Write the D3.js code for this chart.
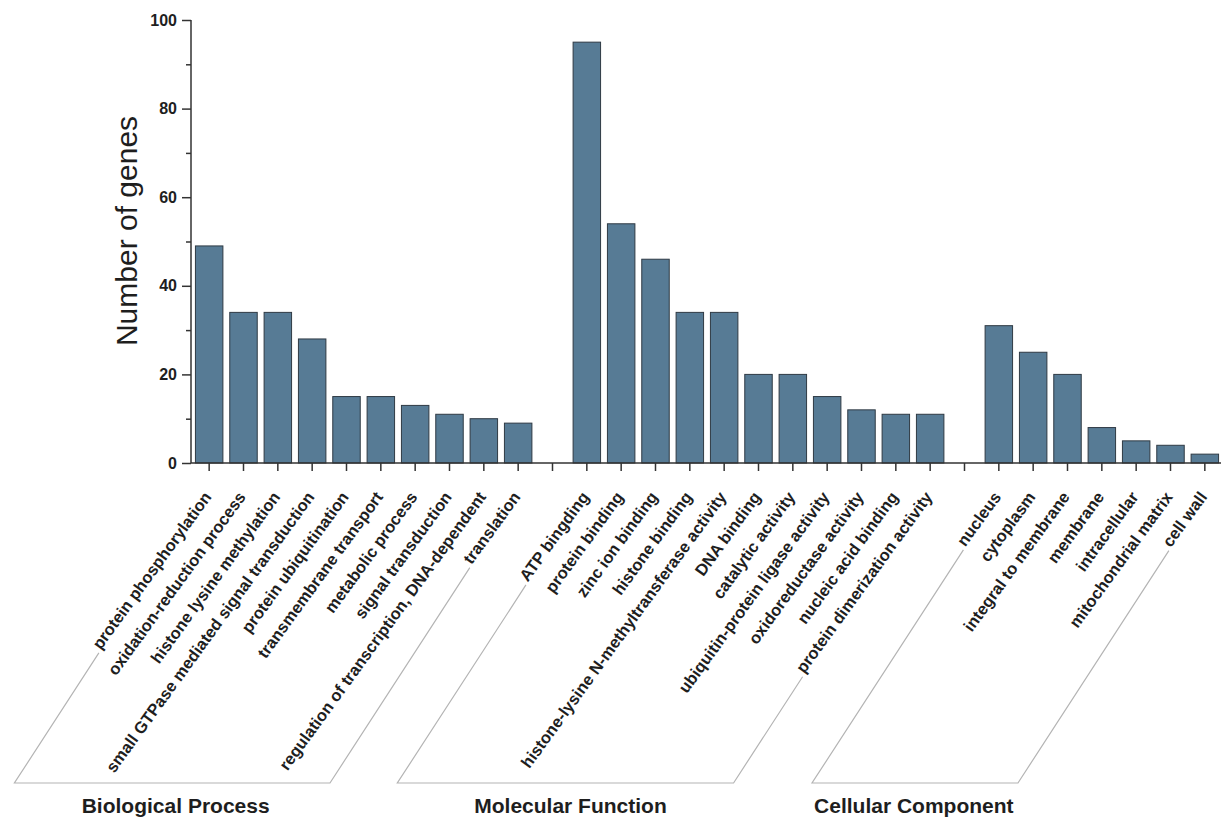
<!DOCTYPE html>
<html>
<head>
<meta charset="utf-8">
<script src="https://cdn.jsdelivr.net/npm/d3@7"></script>
<style>
  html, body { margin: 0; padding: 0; background: #fff; }
  svg { display: block; font-family: Arial, "Liberation Sans", sans-serif; }
</style>
</head>
<body>
<svg id="chart" width="1226" height="817"></svg>
<script>
// GO term counts per ontology
const groupNames = ["Biological Process", "Molecular Function", "Cellular Component"];

const bpTerms = [
  "protein phosphorylation", "oxidation-reduction process", "histone lysine methylation",
  "small GTPase mediated signal transduction", "protein ubiquitination", "transmembrane transport",
  "metabolic process", "signal transduction", "regulation of transcription, DNA-dependent", "translation"
];
const bpCounts = [49, 34, 34, 28, 15, 15, 13, 11, 10, 9];

const mfTerms = [
  "ATP bingding", "protein binding", "zinc ion binding", "histone binding",
  "histone-lysine N-methyltransferase activity", "DNA binding", "catalytic activity",
  "ubiquitin-protein ligase activity", "oxidoreductase activity", "nucleic acid binding",
  "protein dimerization activity"
];
const mfCounts = [95, 54, 46, 34, 34, 20, 20, 15, 12, 11, 11];

const ccTerms = [
  "nucleus", "cytoplasm", "integral to membrane", "membrane",
  "intracellular", "mitochondrial matrix", "cell wall"
];
const ccCounts = [31, 25, 20, 8, 5, 4, 2];

const yTicks = [0, 20, 40, 60, 80, 100];
const yMinorTicks = [10, 30, 50, 70, 90];
const yTitle = "Number of genes";

// Build the slot list: groups separated by one empty slot
const groups = [
  { name: groupNames[0], terms: bpTerms, counts: bpCounts },
  { name: groupNames[1], terms: mfTerms, counts: mfCounts },
  { name: groupNames[2], terms: ccTerms, counts: ccCounts }
];
const slots = [];
const bars = [];
groups.forEach((g, gi) => {
  if (gi > 0) slots.push("__gap" + gi);
  g.keys = [];
  g.terms.forEach((t, i) => {
    slots.push(t);
    g.keys.push(t);
    bars.push({ term: t, value: g.counts[i], group: gi });
  });
});

const svg = d3.select("#chart");
const axisColor = "#333";
const textColor = "#1e1e1e";
const barFill = "#577b95";

const x = d3.scaleBand().domain(slots).range([192, 1222]).paddingInner(0.2).paddingOuter(0.1);
const y = d3.scaleLinear().domain([0, 100]).range([463, 20]);
const x0 = 191;

// Bars
svg.append("g").selectAll("rect").data(bars).join("rect")
  .attr("x", d => x(d.term))
  .attr("y", d => y(d.value))
  .attr("width", x.bandwidth())
  .attr("height", d => y(0) - y(d.value))
  .attr("fill", barFill)
  .attr("stroke", "#2f3a44")
  .attr("stroke-width", 1);

// Y axis
const yAxis = svg.append("g").attr("transform", `translate(${x0},0)`);
yAxis.call(d3.axisLeft(y).tickValues(yTicks).tickSize(9).tickPadding(5).tickFormat(d3.format("d")));
yAxis.append("g").call(d3.axisLeft(y).tickValues(yMinorTicks).tickSize(5).tickFormat(""))
  .select(".domain").remove();
yAxis.selectAll(".domain").attr("d", `M0,${y(0)}V${y(100)}`);
yAxis.selectAll("line, .domain").attr("stroke", axisColor).attr("stroke-width", 1.5);
yAxis.selectAll("text")
  .attr("font-size", 16).attr("font-weight", "bold").attr("fill", textColor)
  .attr("font-family", "Arial, 'Liberation Sans', sans-serif");

// X axis (ticks at every slot, including the gaps)
const xAxis = svg.append("g").attr("transform", `translate(0,${y(0)})`);
xAxis.call(d3.axisBottom(x).tickSize(8).tickFormat(""));
xAxis.select(".domain").attr("d", `M${x0},0H1221`);
xAxis.selectAll("line, .domain").attr("stroke", axisColor).attr("stroke-width", 1.5);

// Y title
svg.append("text")
  .attr("transform", "translate(137,231) rotate(-90)")
  .attr("text-anchor", "middle")
  .attr("font-size", 30)
  .attr("fill", textColor)
  .text(yTitle);

// Rotated category labels
const labelAngle = 54;
const labelY = 497;
const rad = labelAngle * Math.PI / 180;
const dir = [Math.cos(rad), -Math.sin(rad)];
const labelG = svg.append("g");
const labelStart = {};
bars.forEach(d => {
  const bx = x(d.term) + x.bandwidth() / 2 + 3;
  const t = labelG.append("text")
    .attr("transform", `translate(${bx},${labelY}) rotate(${-labelAngle})`)
    .attr("text-anchor", "end")
    .attr("font-size", 16.5)
    .attr("font-weight", "bold")
    .attr("fill", textColor)
    .text(d.term);
  const len = t.node().getComputedTextLength();
  labelStart[d.term] = [bx - (len + 3) * dir[0], labelY - (len + 3) * dir[1]];
});

// Group brackets and titles
const bracketBottom = 783;
const bracketSlope = Math.tan(57 * Math.PI / 180);
groups.forEach(g => {
  const s1 = labelStart[g.keys[0]];
  const s2 = labelStart[g.keys[g.keys.length - 1]];
  const b1 = s1[0] - (bracketBottom - s1[1]) / bracketSlope;
  const b2 = s2[0] - (bracketBottom - s2[1]) / bracketSlope;
  svg.append("path")
    .attr("d", `M${s1[0]},${s1[1]}L${b1},${bracketBottom}H${b2}L${s2[0]},${s2[1]}`)
    .attr("fill", "none")
    .attr("stroke", "#b4b4b4")
    .attr("stroke-width", 1.2);
  const cx = (x(g.keys[0]) + x(g.keys[g.keys.length - 1]) + x.bandwidth()) / 2 - 188;
  svg.append("text")
    .attr("x", cx)
    .attr("y", 813)
    .attr("text-anchor", "middle")
    .attr("font-size", 21)
    .attr("font-weight", "bold")
    .attr("fill", textColor)
    .text(g.name);
});
</script>
</body>
</html>
